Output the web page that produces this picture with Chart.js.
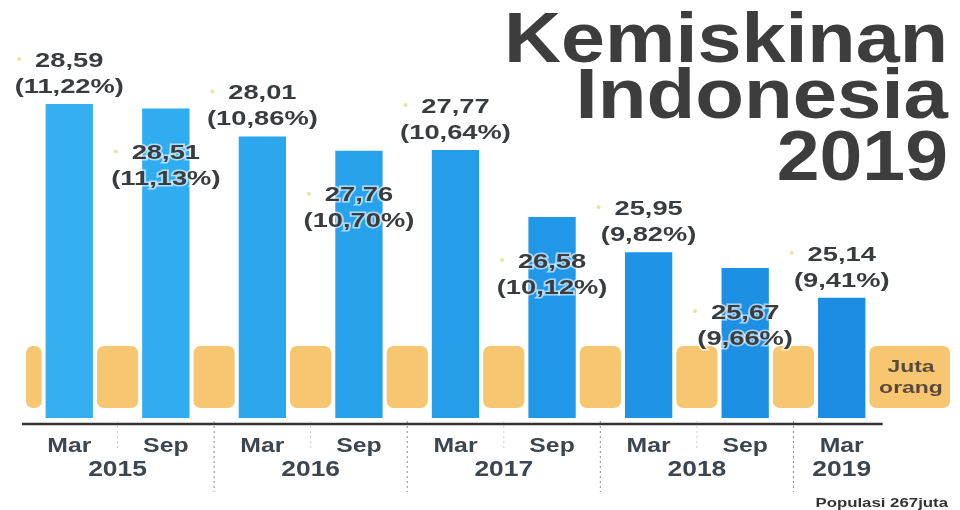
<!DOCTYPE html>
<html>
<head>
<meta charset="utf-8">
<title>Kemiskinan Indonesia 2019</title>
<script src="https://cdn.jsdelivr.net/npm/chart.js@4.4.0/dist/chart.umd.min.js"></script>
<style>
    html, body { margin: 0; padding: 0; background: #fff; }
    #wrap { width: 960px; height: 510px; }
</style>
</head>
<body>
<div id="wrap"><canvas id="chart" width="960" height="510"></canvas></div>
<script>
const periods = ['Mar', 'Sep', 'Mar', 'Sep', 'Mar', 'Sep', 'Mar', 'Sep', 'Mar'];
const periodYears = ['2015', '2015', '2016', '2016', '2017', '2017', '2018', '2018', '2019'];
const yearLabels = ['2015', '2016', '2017', '2018', '2019'];
const poorMillions = [28.59, 28.51, 28.01, 27.76, 27.77, 26.58, 25.95, 25.67, 25.14];
const poorPercent = [11.22, 11.13, 10.86, 10.70, 10.64, 10.12, 9.82, 9.66, 9.41];
const titleLines = ['Kemiskinan', 'Indonesia', '2019'];
const unitLines = ['Juta', 'orang'];
const footnote = 'Populasi 267juta';

const barColors = ['#33aff0', '#30acf0', '#2ca7ee', '#29a2ec', '#259de9', '#2197e7', '#1f93e5', '#1e90e4', '#1c8de2'];
const textColor = '#3a3d40';
const bandColor = '#f7c670';

const fmt = v => v.toFixed(2).replace('.', ',');

const drawText = (ctx, text, x, y, sx, align) => {
    ctx.save();
    ctx.translate(x, y);
    ctx.scale(sx, 1);
    ctx.textAlign = align || 'center';
    ctx.fillText(text, 0, 0);
    ctx.restore();
};

const infographic = {
    id: 'infographic',
    beforeDatasetsDraw(chart) {
        const { ctx } = chart;
        const bars = chart.getDatasetMeta(0).data;
        const gap = 4, top = 346, bottom = 408;
        const edges = [26];
        bars.forEach(b => { edges.push(b.x - b.width / 2 - gap, b.x + b.width / 2 + gap); });
        edges.push(950);
        ctx.save();
        ctx.fillStyle = bandColor;
        for (let i = 0; i < edges.length; i += 2) {
            ctx.beginPath();
            ctx.roundRect(edges[i], top, edges[i + 1] - edges[i], bottom - top, 7);
            ctx.fill();
        }
        ctx.restore();
    },
    afterDatasetsDraw(chart) {
        const { ctx, chartArea } = chart;
        const x = chart.scales.x;
        const bars = chart.getDatasetMeta(0).data;
        const axisY = chartArea.bottom + 6;

        ctx.save();
        // axis line
        ctx.strokeStyle = '#333';
        ctx.lineWidth = 2.5;
        ctx.beginPath();
        ctx.moveTo(chartArea.left + 1, axisY);
        ctx.lineTo(bars[bars.length - 1].x + 41, axisY);
        ctx.stroke();

        // separators between periods
        ctx.lineWidth = 1;
        ctx.setLineDash([2, 3]);
        for (let i = 0; i < periods.length - 1; i++) {
            const sx = (x.getPixelForValue(i) + x.getPixelForValue(i + 1)) / 2;
            const longLine = periodYears[i] !== periodYears[i + 1];
            ctx.strokeStyle = longLine ? '#7f8c96' : '#c8ced3';
            ctx.beginPath();
            ctx.moveTo(sx, axisY - 3);
            ctx.lineTo(sx, longLine ? axisY + 68 : axisY + 24);
            ctx.stroke();
        }
        ctx.setLineDash([]);

        // period + year labels
        ctx.fillStyle = '#3c4650';
        ctx.textBaseline = 'middle';
        ctx.font = 'bold 21px "Liberation Sans", Arial, sans-serif';
        periods.forEach((p, i) => drawText(ctx, p, x.getPixelForValue(i), 446, 1.18));
        ctx.font = 'bold 22px "Liberation Sans", Arial, sans-serif';
        yearLabels.forEach(y => {
            const idx = periodYears.map((py, i) => py === y ? i : -1).filter(i => i >= 0);
            const cx = idx.reduce((s, i) => s + x.getPixelForValue(i), 0) / idx.length;
            drawText(ctx, y, cx, 470, 1.2);
        });

        // value labels
        ctx.font = 'bold 21px "Liberation Sans", Arial, sans-serif';
        bars.forEach((b, i) => {
            const onBar = i % 2 === 1;
            const y1 = onBar ? b.y + 45 : b.y - 43;
            const y2 = y1 + 26;
            const lines = [[fmt(poorMillions[i]), y1], ['(' + fmt(poorPercent[i]) + '%)', y2]];
            ctx.fillStyle = '#ece3a0';
            ctx.beginPath();
            ctx.arc(b.x - 50, y1 - 2, 2, 0, Math.PI * 2);
            ctx.fill();
            lines.forEach(([t, ty]) => {
                if (onBar) {
                    ctx.save();
                    ctx.translate(b.x, ty);
                    ctx.scale(1.3, 1);
                    ctx.textAlign = 'center';
                    ctx.strokeStyle = 'rgba(255,255,255,0.6)';
                    ctx.lineWidth = 3;
                    ctx.strokeText(t, 0, 0);
                    ctx.restore();
                }
                ctx.fillStyle = textColor;
                drawText(ctx, t, b.x, ty, 1.3);
            });
        });

        // unit box text
        ctx.fillStyle = '#5b4a3c';
        ctx.font = 'bold 17px "Liberation Sans", Arial, sans-serif';
        drawText(ctx, unitLines[0], 911, 367, 1.35);
        drawText(ctx, unitLines[1], 911, 388, 1.35);

        // title
        ctx.fillStyle = '#3d3d3d';
        ctx.textBaseline = 'alphabetic';
        ctx.font = 'bold 70px "Liberation Sans", Arial, sans-serif';
        drawText(ctx, titleLines[0], 948, 62, 1.13, 'right');
        drawText(ctx, titleLines[1], 948, 118, 1.14, 'right');
        drawText(ctx, titleLines[2], 948, 180, 1.1, 'right');

        // footnote
        ctx.fillStyle = '#333';
        ctx.font = 'bold 12px "Liberation Sans", Arial, sans-serif';
        drawText(ctx, footnote, 948, 507, 1.4, 'right');
        ctx.restore();
    }
};

new Chart(document.getElementById('chart'), {
    type: 'bar',
    data: {
        labels: periods.map((p, i) => p + ' ' + periodYears[i]),
        datasets: [{
            label: 'Juta orang',
            data: poorMillions,
            backgroundColor: barColors,
            borderWidth: 0,
            categoryPercentage: 1,
            barPercentage: 0.49
        }]
    },
    options: {
        responsive: false,
        animation: false,
        layout: { padding: { left: 21, right: 70, top: 81, bottom: 92 } },
        plugins: { legend: { display: false }, tooltip: { enabled: false } },
        scales: {
            x: { display: false },
            y: { display: false, min: 23, max: 29 }
        }
    },
    plugins: [infographic]
});
</script>
</body>
</html>
